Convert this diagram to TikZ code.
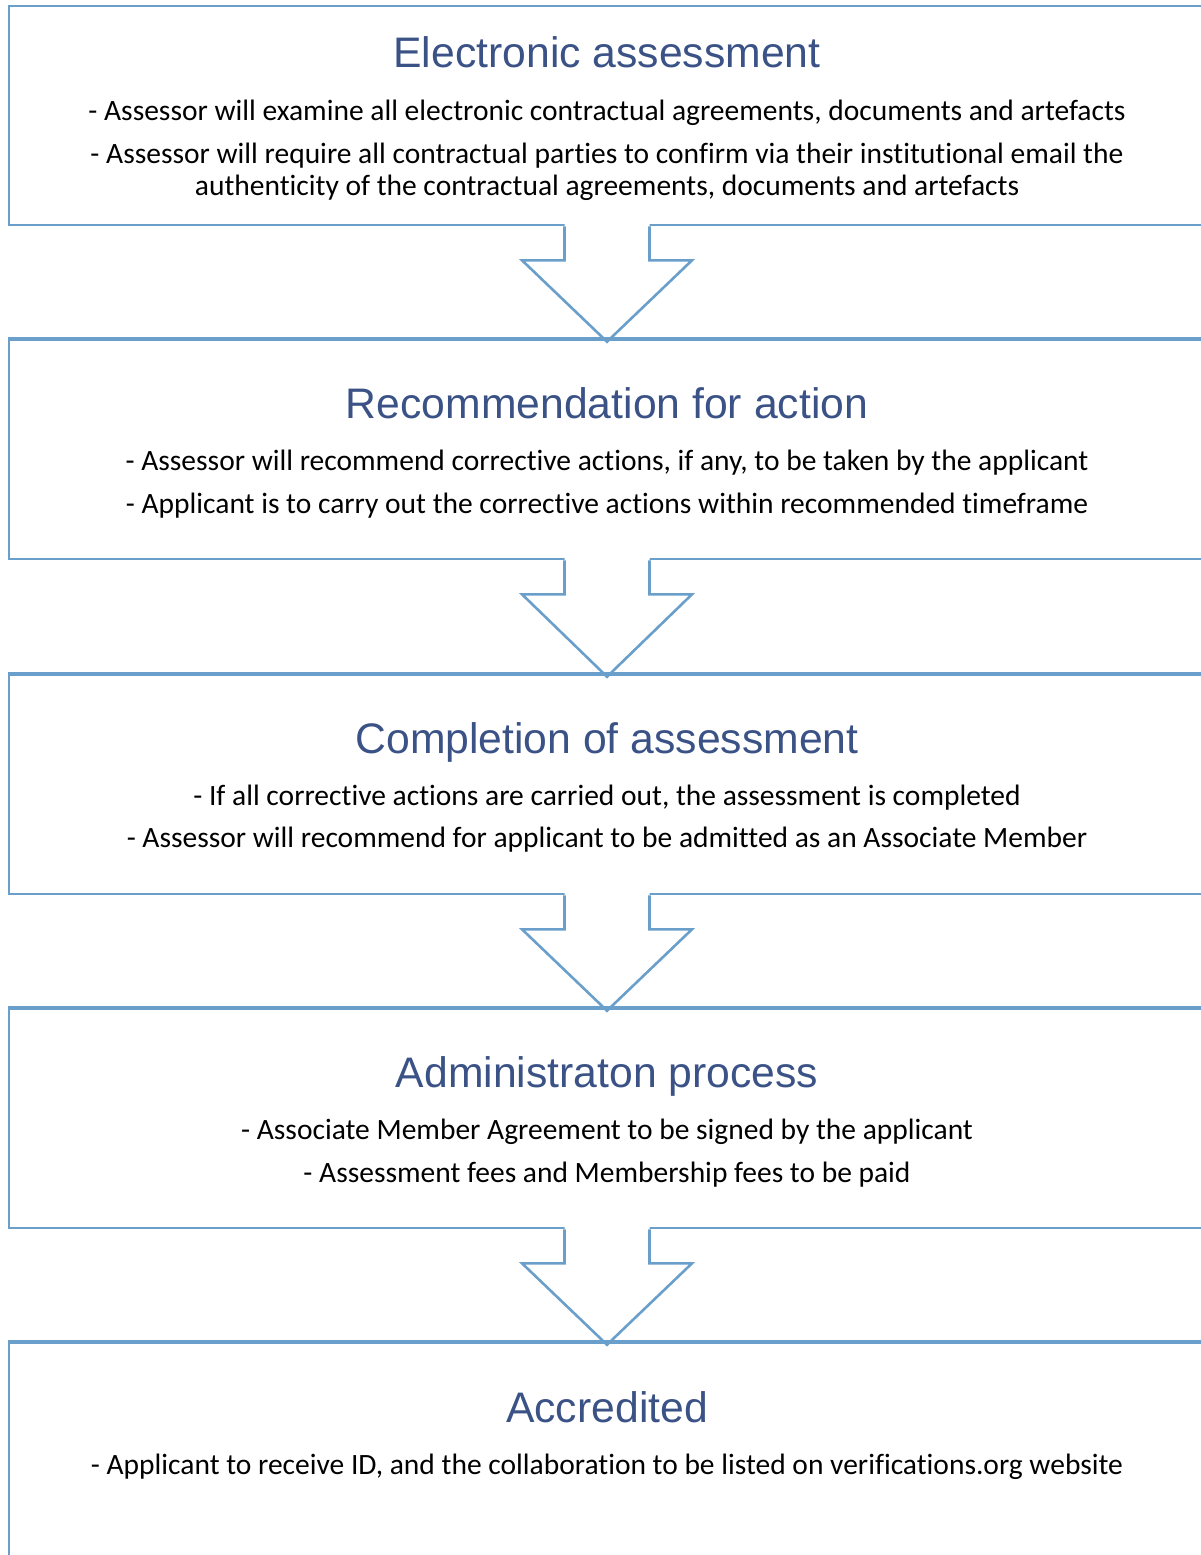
\documentclass[tikz,border=0pt]{standalone}
\usepackage{fontspec}
\setmainfont{Carlito}[RawFeature={-liga;-clig;-dlig;-calt}]
\newfontfamily\titlefont{Liberation Sans}
\usetikzlibrary{calc}
\definecolor{boxline}{HTML}{6A9FCB}
\definecolor{titleblue}{HTML}{3B5286}
\begin{document}
\begin{tikzpicture}[x=1pt,y=-1pt,
  stagebox/.style={draw=boxline,line width=2.6pt,minimum width=1196pt,minimum height=219pt,inner sep=0pt},
  lastbox/.style={stagebox,minimum height=320pt},
  ttl/.style={anchor=base,font=\titlefont\fontsize{42.7}{48}\selectfont,text=titleblue,inner sep=0pt},
  body/.style={anchor=base,font=\fontsize{29.5}{32}\selectfont,align=center,inner sep=0pt},
  arrowline/.style={draw=boxline,line width=2.6pt,line join=miter}]
\useasboundingbox (0,0) rectangle (1200,1555);
\node[stagebox] (b1) at (607,115.5) {};
\node[ttl] (t1) at (607,67) {Electronic assessment};
\node[body] (l1a) at (607,120.5) {- Assessor will examine all electronic contractual agreements, documents and artefacts};
\node[body] (l1b) at (607,195.5) {- Assessor will require all contractual parties to confirm via their institutional email the\\authenticity of the contractual agreements, documents and artefacts};

\node[stagebox] (b2) at (607,449.5) {};
\node[stagebox] (b3) at (607,784.5) {};
\node[stagebox] (b4) at (607,1118.5) {};
\node[lastbox] (b5) at (607,1503) {};

\foreach \a/\b in {b1/b2,b2/b3,b3/b4,b4/b5}{
  \fill[white] ($(\a.south)+(-42.5,-3)$) -- ($(\a.south)+(-42.5,34)$) -- ($(\a.south)+(-85,34)$) -- ($(\b.north)+(0,3)$) -- ($(\a.south)+(85,34)$) -- ($(\a.south)+(42.5,34)$) -- ($(\a.south)+(42.5,-3)$) -- cycle;
  \draw[arrowline] ($(\a.south)+(-42.5,0)$) -- ($(\a.south)+(-42.5,34)$) -- ($(\a.south)+(-85,34)$) -- ($(\b.north)+(0,3)$) -- ($(\a.south)+(85,34)$) -- ($(\a.south)+(42.5,34)$) -- ($(\a.south)+(42.5,0)$);
  \draw[boxline,line width=2.6pt] (\b.north west) -- (\b.north east);
}

\node[ttl] (t2) at (607,418) {Recommendation for action};
\node[body] (l2a) at (607,470.5) {- Assessor will recommend corrective actions, if any, to be taken by the applicant};
\node[body] (l2b) at (607,513.5) {- Applicant is to carry out the corrective actions within recommended timeframe};

\node[ttl] (t3) at (607,753) {Completion of assessment};
\node[body] (l3a) at (607,805.5) {- If all corrective actions are carried out, the assessment is completed};
\node[body] (l3b) at (607,847.5) {- Assessor will recommend for applicant to be admitted as an Associate Member};

\node[ttl] (t4) at (607,1087) {Administraton process};
\node[body] (l4a) at (607,1139.5) {- Associate Member Agreement to be signed by the applicant};
\node[body] (l4b) at (607,1182.5) {- Assessment fees and Membership fees to be paid};

\node[ttl] (t5) at (607,1422) {Accredited};
\node[body] (l5a) at (607,1474.5) {- Applicant to receive ID, and the collaboration to be listed on verifications.org website};
\end{tikzpicture}
\end{document}
